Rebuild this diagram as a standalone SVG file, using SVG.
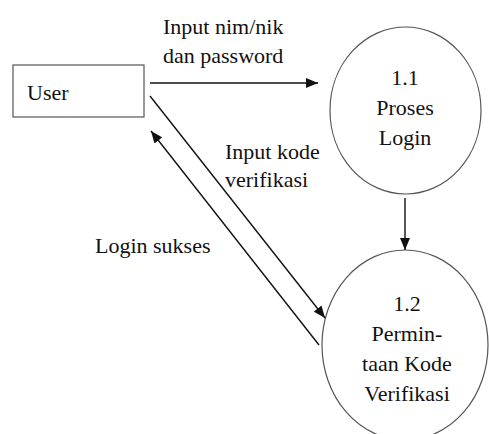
<svg xmlns="http://www.w3.org/2000/svg" width="489" height="434" viewBox="0 0 489 434">
<style>
.c{text-anchor:middle}
.node{fill:#fff;stroke:#555;stroke-width:1.2}
.flow{stroke:#111;fill:none;stroke-width:1.4}
</style>
<defs>
<marker id="ah" markerUnits="userSpaceOnUse" markerWidth="12" markerHeight="10" refX="12" refY="5" orient="auto">
<path d="M0,0 L12,5 L0,10 z" fill="#111"/>
</marker>
</defs>
<rect width="489" height="434" fill="#fff"/>
<g font-family="'Liberation Serif', serif" font-size="22" fill="#111">
<g id="user">
<rect class="node" x="13" y="65" width="131" height="52"/>
<text x="27" y="100">User</text>
</g>
<g id="p11">
<ellipse class="node" cx="405.5" cy="110.5" rx="75.5" ry="83.5"/>
<text class="c" x="405" y="85">1.1</text>
<text class="c" x="405" y="115">Proses</text>
<text class="c" x="405" y="145">Login</text>
</g>
<g id="p12">
<ellipse class="node" cx="405" cy="345" rx="83" ry="95"/>
<text class="c" x="407" y="311">1.2</text>
<text class="c" x="407" y="341">Permin-</text>
<text class="c" x="407" y="371">taan Kode</text>
<text class="c" x="407" y="401">Verifikasi</text>
</g>
<g id="connectors">
<line class="flow" x1="150" y1="83" x2="318" y2="83" stroke-width="2" marker-end="url(#ah)"/>
<line class="flow" x1="405" y1="198" x2="405" y2="250" marker-end="url(#ah)"/>
<line class="flow" x1="150" y1="96" x2="325" y2="318" marker-end="url(#ah)"/>
<line class="flow" x1="319" y1="345" x2="151" y2="131" marker-end="url(#ah)"/>
</g>
<g id="labels">
<text x="163" y="34">Input nim/nik</text>
<text x="163" y="63">dan password</text>
<text x="225" y="159">Input kode</text>
<text x="225" y="187">verifikasi</text>
<text x="95" y="253">Login sukses</text>
</g>
</g>
</svg>
